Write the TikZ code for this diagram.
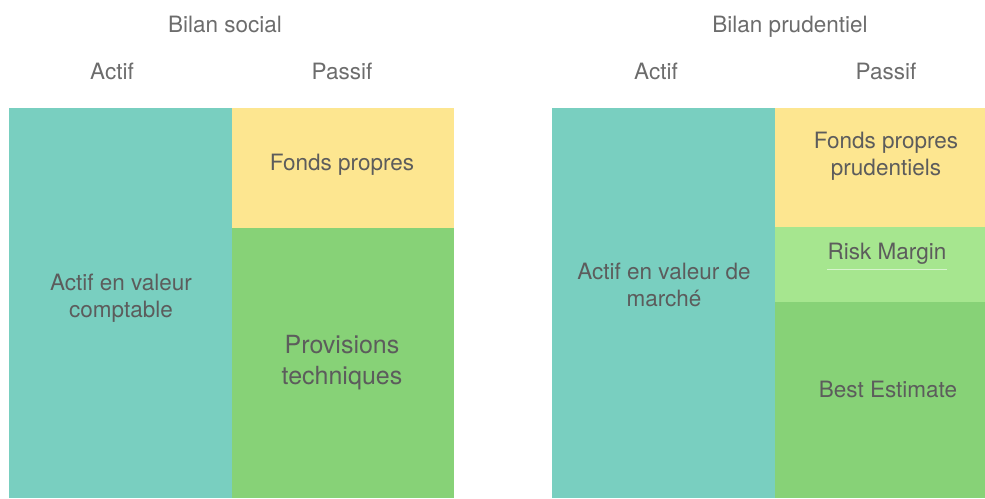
\documentclass[tikz,border=0pt]{standalone}
\usepackage{fontspec}
\setmainfont{TeX Gyre Heros}
\begin{document}
\definecolor{assetteal}{HTML}{79CFC0}
\definecolor{equityyellow}{HTML}{FDE690}
\definecolor{provgreen}{HTML}{87D277}
\definecolor{margingreen}{HTML}{A6E68F}
\definecolor{labelgray}{HTML}{5C5C5C}
\begin{tikzpicture}[x=1pt,y=-1pt,
  head/.style={font=\fontsize{22.5}{26}\selectfont, text=labelgray!90!white, anchor=base},
  blocktext/.style={font=\fontsize{22.5}{27.5}\selectfont, text=labelgray, align=center},
  bigtext/.style={font=\fontsize{25}{31}\selectfont, text=labelgray, align=center}]
\useasboundingbox (0,0) rectangle (985,498);

% Bilan social
\fill[assetteal]    (9,108)   rectangle (232,498);
\fill[equityyellow] (232,108) rectangle (454,228);
\fill[provgreen]    (232,228) rectangle (454,498);
\node[head] (t1) at (225,32) {Bilan social};
\node[head] (a1) at (112,79) {Actif};
\node[head] (p1) at (342,79) {Passif};
\node[blocktext] (va) at (121,298) {Actif en valeur\\comptable};
\node[blocktext] (fp) at (342,165) {Fonds propres};
\node[bigtext] (pt) at (342,363) {Provisions\\techniques};

% Bilan prudentiel
\fill[assetteal]    (552,108) rectangle (775,498);
\fill[equityyellow] (775,108) rectangle (985,227);
\fill[margingreen]  (775,227) rectangle (985,302);
\fill[provgreen]    (775,302) rectangle (985,498);
\node[head] (t2) at (790,32) {Bilan prudentiel};
\node[head] (a2) at (656,79) {Actif};
\node[head] (p2) at (886,79) {Passif};
\node[blocktext] (vm) at (664,285) {Actif en valeur de\\marché};
\node[blocktext] (fpp) at (886,156) {Fonds propres\\prudentiels};
\node[blocktext] (rm) at (887,254) {Risk Margin};
\draw[white!55!margingreen, line width=0.7pt] ([xshift=3pt,yshift=-1pt]rm.south west) -- ([xshift=-3pt,yshift=-1pt]rm.south east);
\node[blocktext] (be) at (888,389) {Best Estimate};
\end{tikzpicture}
\end{document}
